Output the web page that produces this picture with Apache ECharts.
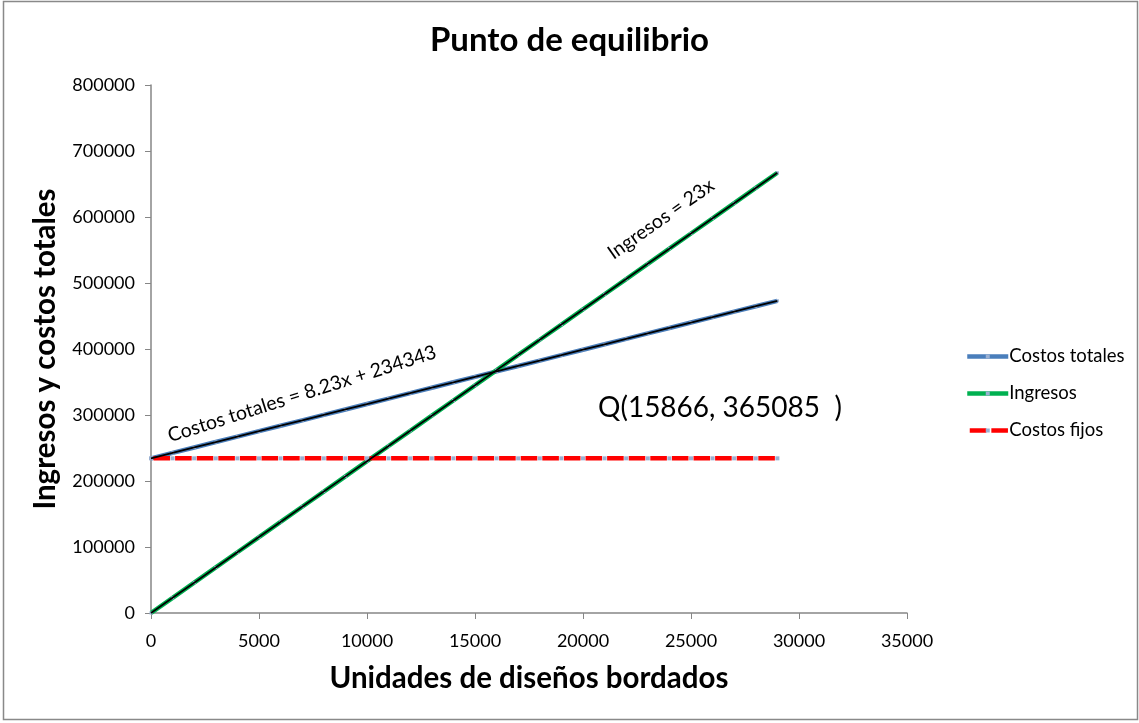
<!DOCTYPE html>
<html lang="es">
<head>
    <meta charset="UTF-8">
    <title>Punto de equilibrio</title>
    <script src="https://cdn.jsdelivr.net/npm/echarts@6.0.0/dist/echarts.min.js"></script>
    <style>
        body{
            margin: 0;
            background-color: #ffffff;
        }
    </style>
</head>
<body>
<div id="main" style="width: 1139px;height: 723px;"></div>
<script type="text/javascript">
    // unidades (eje x)
    var unidades = [0, 1000, 2000, 3000, 4000, 5000, 6000, 7000, 8000, 9000,
        10000, 11000, 12000, 13000, 14000, 15000, 16000, 17000, 18000, 19000,
        20000, 21000, 22000, 23000, 24000, 25000, 26000, 27000, 28000, 29000];
    var costosTotales = [234343, 242573, 250803, 259033, 267263, 275493, 283723, 291953, 300183, 308413,
        316643, 324873, 333103, 341333, 349563, 357793, 366023, 374253, 382483, 390713,
        398943, 407173, 415403, 423633, 431863, 440093, 448323, 456553, 464783, 473013];
    var ingresos = [0, 23000, 46000, 69000, 92000, 115000, 138000, 161000, 184000, 207000,
        230000, 253000, 276000, 299000, 322000, 345000, 368000, 391000, 414000, 437000,
        460000, 483000, 506000, 529000, 552000, 575000, 598000, 621000, 644000, 667000];
    var costosFijos = [234343, 234343, 234343, 234343, 234343, 234343, 234343, 234343, 234343, 234343,
        234343, 234343, 234343, 234343, 234343, 234343, 234343, 234343, 234343, 234343,
        234343, 234343, 234343, 234343, 234343, 234343, 234343, 234343, 234343, 234343];
    var nombres = ['Costos totales', 'Ingresos', 'Costos fijos'];

    function pares(ys) {
        var out = [];
        for (var i = 0; i < unidades.length; i++) {
            out.push([unidades[i], ys[i]]);
        }
        return out;
    }

    var fuente = 'Lato, "Open Sans", sans-serif';
    var gris = '#868686';
    var marca = '#9AB0D2';

    var myChart = echarts.init(document.getElementById('main'));

    var option = {
        backgroundColor: '#ffffff',
        animation: false,
        title: {
            text: 'Punto de equilibrio',
            left: 'center',
            top: 19,
            textStyle: {fontFamily: fuente, fontWeight: 'bold', fontSize: 33, color: '#000'}
        },
        legend: {
            data: nombres,
            orient: 'vertical',
            left: 960,
            top: 342,
            itemWidth: 41,
            itemHeight: 5,
            itemGap: 18,
            lineStyle: {width: 4.5},
            textStyle: {fontFamily: fuente, fontSize: 18.5, lineHeight: 18, color: '#000', padding: [0, 0, 0, -4]}
        },
        grid: {
            left: 151,
            top: 85,
            width: 756,
            height: 528,
            outerBoundsMode: 'none',
            containLabel: false
        },
        xAxis: {
            type: 'value',
            min: 0,
            max: 35000,
            interval: 5000,
            name: 'Unidades de diseños bordados',
            nameLocation: 'middle',
            nameGap: 50,
            nameTextStyle: {fontFamily: fuente, fontWeight: 'bold', fontSize: 29.5, color: '#000', verticalAlign: 'top'},
            splitLine: {show: false},
            axisLine: {lineStyle: {color: gris, width: 1.5}},
            axisTick: {lineStyle: {color: gris}, length: 6},
            axisLabel: {fontFamily: fuente, fontSize: 18, color: '#000', margin: 19, formatter: function (v) { return String(v); }}
        },
        yAxis: {
            type: 'value',
            min: 0,
            max: 800000,
            interval: 100000,
            name: 'Ingresos y costos totales',
            nameLocation: 'middle',
            nameGap: 91,
            nameRotate: 90,
            nameTextStyle: {fontFamily: fuente, fontWeight: 'bold', fontSize: 29.5, color: '#000', verticalAlign: 'bottom'},
            splitLine: {show: false},
            axisLine: {show: true, lineStyle: {color: gris, width: 1.5}},
            axisTick: {show: true, lineStyle: {color: gris}, length: 6},
            axisLabel: {fontFamily: fuente, fontSize: 18, color: '#000', margin: 16, formatter: function (v) { return String(v); }}
        },
        series: [
            {
                name: 'Costos totales',
                type: 'line',
                data: pares(costosTotales),
                symbol: 'rect',
                symbolSize: 3,
                lineStyle: {color: '#4A7EBB', width: 4.5},
                itemStyle: {color: marca},
                z: 2
            },
            {
                name: 'Ingresos',
                type: 'line',
                data: pares(ingresos),
                symbol: 'rect',
                symbolSize: 3,
                lineStyle: {color: '#00B050', width: 4.5},
                itemStyle: {color: marca},
                z: 2
            },
            {
                name: 'Costos fijos',
                type: 'line',
                data: pares(costosFijos),
                symbol: 'rect',
                symbolSize: 4,
                lineStyle: {color: '#FF0000', width: 4.5, type: [16.6, 5], dashOffset: 19.1},
                itemStyle: {color: marca},
                z: 2
            },
            // lineas de tendencia negras encima
            {
                name: 'tendencia totales',
                type: 'line',
                data: pares(costosTotales),
                symbol: 'none',
                silent: true,
                lineStyle: {color: '#000000', width: 1.8},
                z: 3
            },
            {
                name: 'tendencia ingresos',
                type: 'line',
                data: pares(ingresos),
                symbol: 'none',
                silent: true,
                lineStyle: {color: '#000000', width: 1.8},
                z: 3
            }
        ],
        graphic: [
            {
                type: 'rect',
                silent: true,
                shape: {x: 3.5, y: 1.5, width: 1134, height: 718},
                style: {fill: 'none', stroke: '#898989', lineWidth: 1.5}
            },
            {
                type: 'text',
                x: 302,
                y: 394,
                rotation: 17.6 * Math.PI / 180,
                style: {text: 'Costos totales = 8.23x + 234343', fontFamily: fuente, fontSize: 19.5, fill: '#000', align: 'center', verticalAlign: 'middle'}
            },
            {
                type: 'text',
                x: 661,
                y: 219,
                rotation: 35 * Math.PI / 180,
                style: {text: 'Ingresos = 23x', fontFamily: fuente, fontSize: 19.5, fill: '#000', align: 'center', verticalAlign: 'middle'}
            },
            {
                type: 'text',
                x: 598,
                y: 408,
                style: {text: 'Q(15866, 365085  )', fontFamily: fuente, fontSize: 28, fill: '#000', align: 'left', verticalAlign: 'middle'}
            }
        ]
    };

    myChart.setOption(option);
</script>
</body>
</html>
